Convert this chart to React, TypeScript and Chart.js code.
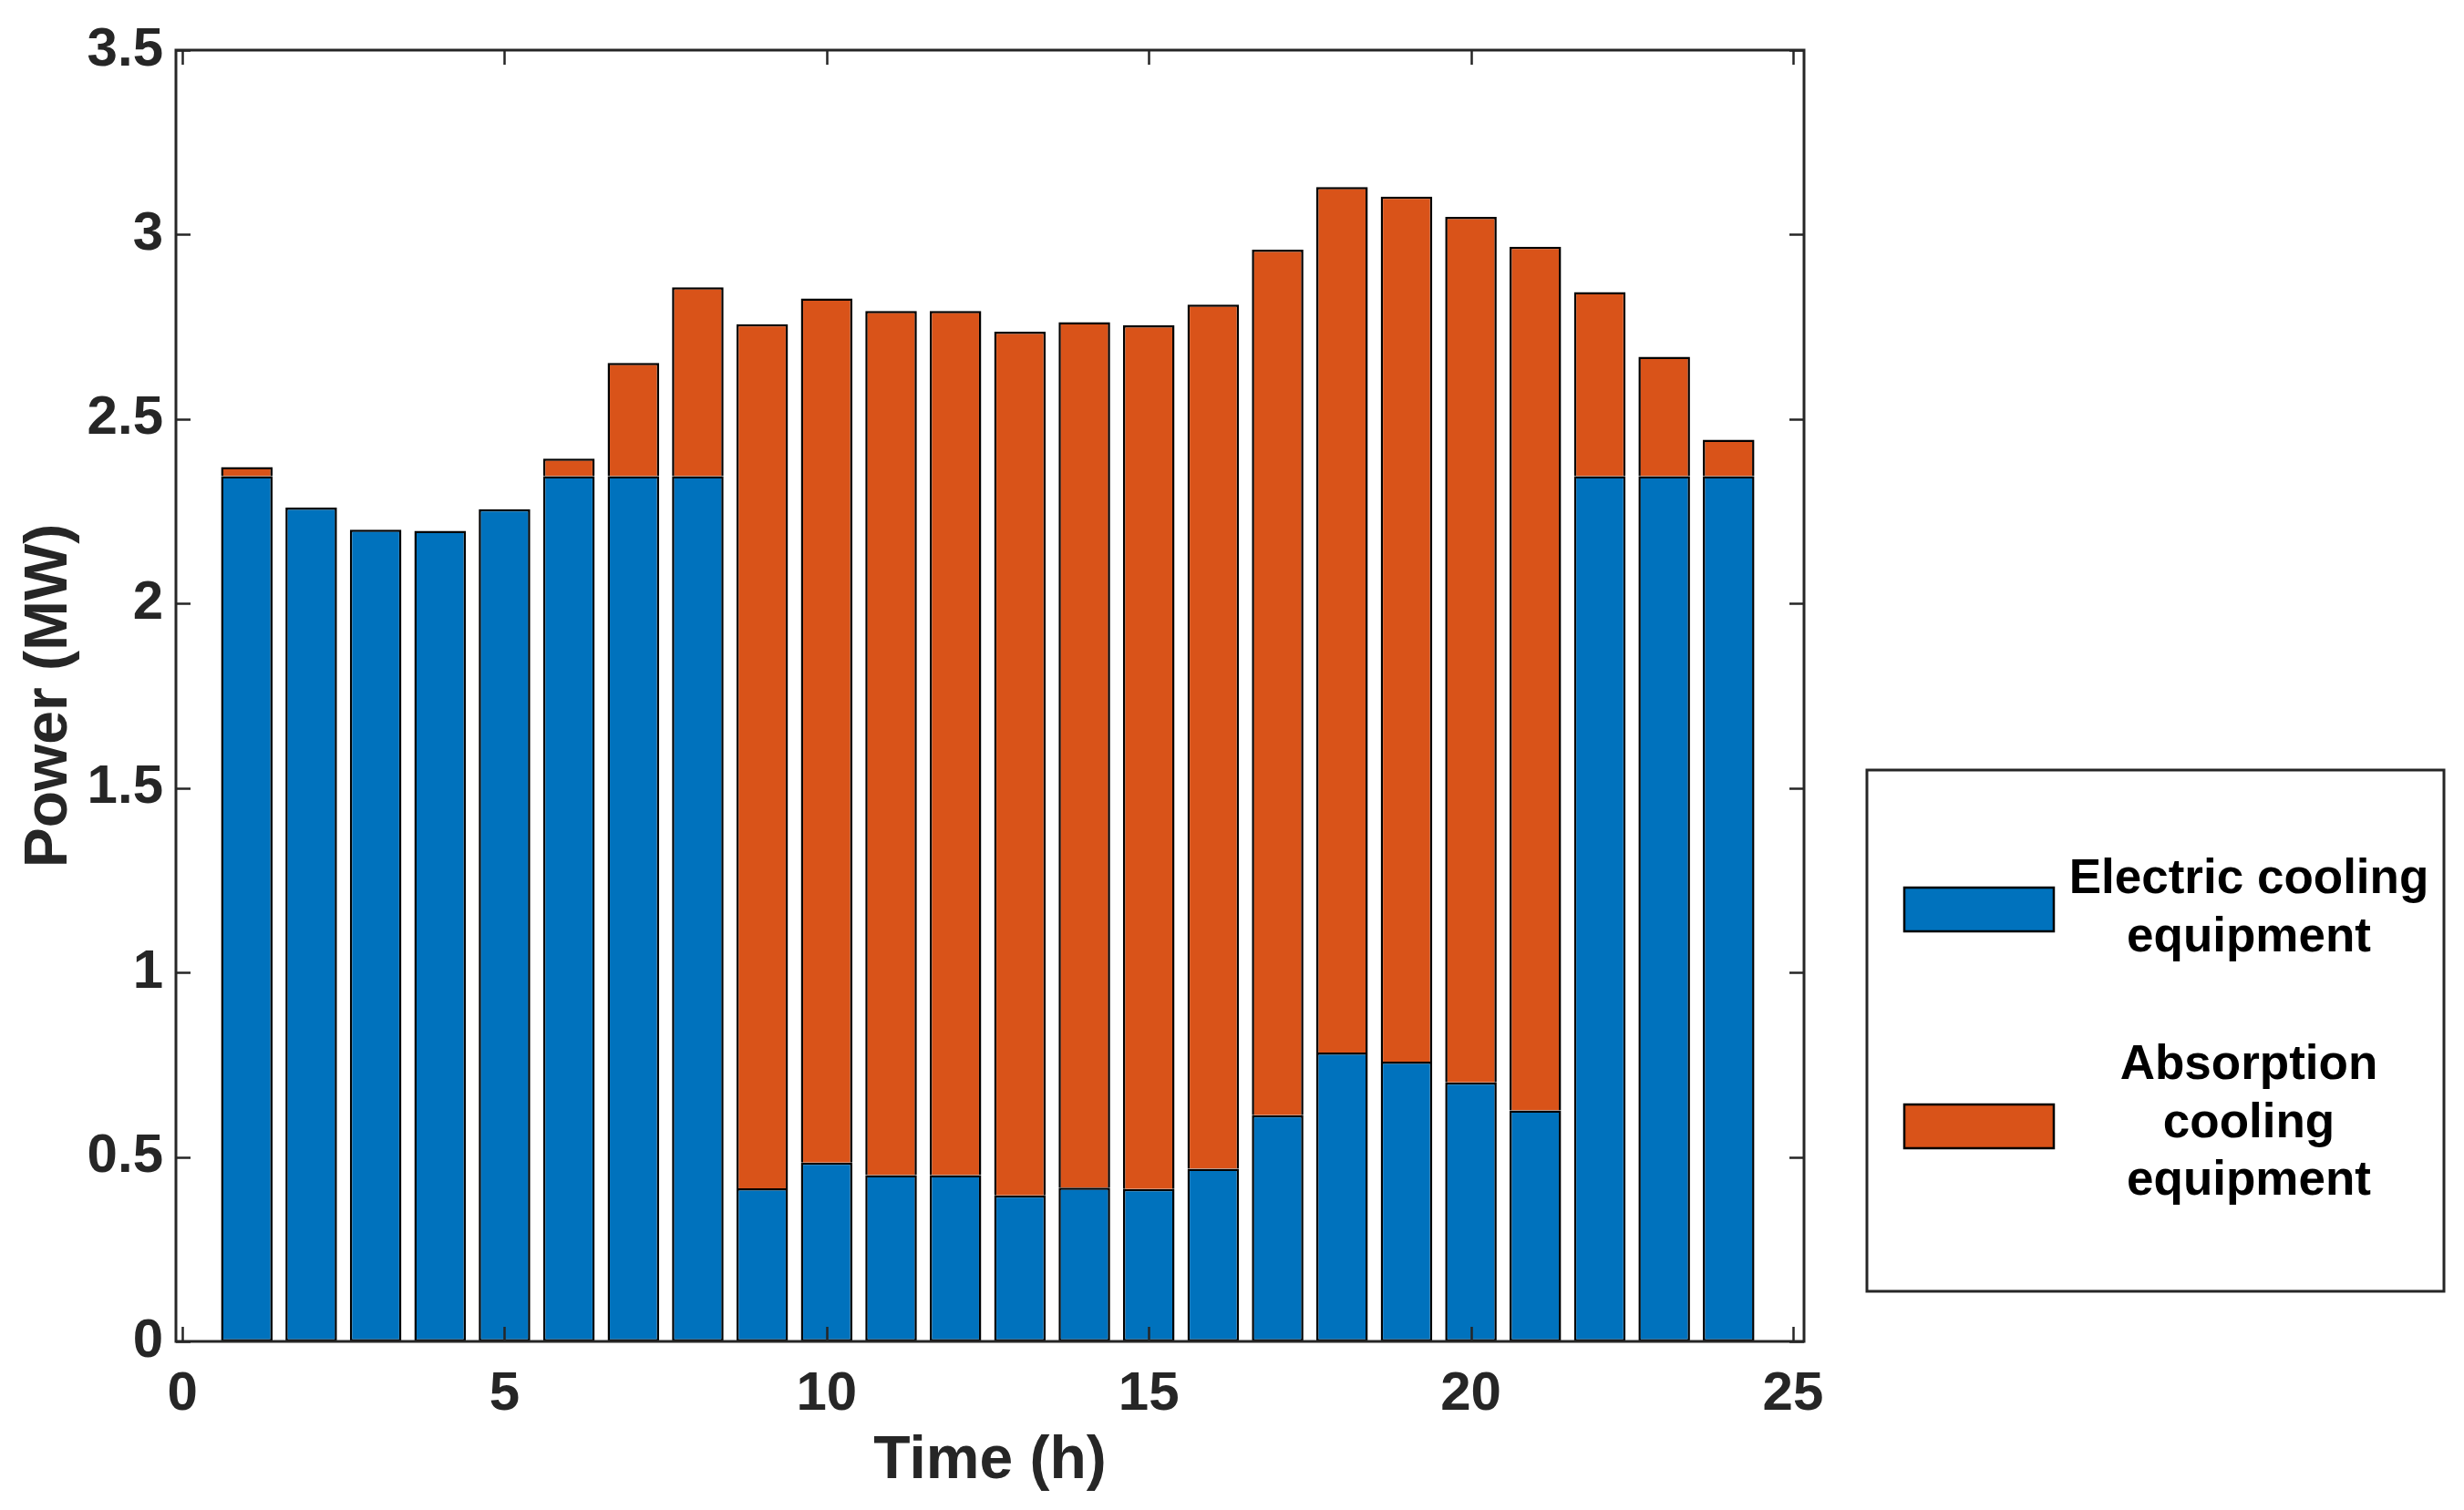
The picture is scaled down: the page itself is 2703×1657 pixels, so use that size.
import React, { useEffect, useRef } from "react";
import { Chart, registerables } from "chart.js";

Chart.register(...registerables);

const hours = [1, 2, 3, 4, 5, 6, 7, 8, 9, 10, 11, 12, 13, 14, 15, 16, 17, 18, 19, 20, 21, 22, 23, 24];
const electric = [2.345, 2.26, 2.2, 2.197, 2.256, 2.345, 2.345, 2.345, 0.415, 0.485, 0.451, 0.451, 0.396, 0.417, 0.413, 0.468, 0.613, 0.783, 0.758, 0.702, 0.626, 2.345, 2.345, 2.345];
const absorption = [0.025, 0, 0, 0, 0, 0.048, 0.307, 0.512, 2.342, 2.342, 2.342, 2.342, 2.341, 2.346, 2.341, 2.342, 2.346, 2.346, 2.345, 2.346, 2.341, 0.499, 0.324, 0.099];
const xTicks = [0, 5, 10, 15, 20, 25];
const yTicks = [0, 0.5, 1, 1.5, 2, 2.5, 3, 3.5];
const seriesLabels = ["Electric cooling equipment", "Absorption cooling equipment"];
const legendLines = [["Electric cooling", "equipment"], ["Absorption", "cooling", "equipment"]];
const seriesColors = ["#0072BD", "#D95319"];

const FONT = "'Liberation Sans', Arial, Helvetica, sans-serif";
const AXIS_COLOR = "#262626";
const W = 2703;
const H = 1657;

const boxPlugin = {
  id: "matlabBox",
  afterDatasetsDraw(chart: any) {
    const { ctx, chartArea, scales } = chart;
    const { left, right, top, bottom } = chartArea;
    const tl = 16;
    ctx.save();
    ctx.strokeStyle = AXIS_COLOR;
    ctx.lineWidth = 2.5;
    ctx.beginPath();
    for (const t of scales.x.ticks) {
      const px = Math.round(scales.x.getPixelForValue(t.value)) + 0.5;
      ctx.moveTo(px, bottom);
      ctx.lineTo(px, bottom - tl);
      ctx.moveTo(px, top);
      ctx.lineTo(px, top + tl);
    }
    for (const t of scales.y.ticks) {
      const py = Math.round(scales.y.getPixelForValue(t.value)) + 0.5;
      ctx.moveTo(left, py);
      ctx.lineTo(left + tl, py);
      ctx.moveTo(right, py);
      ctx.lineTo(right - tl, py);
    }
    ctx.stroke();
    ctx.lineWidth = 3;
    ctx.strokeRect(left, top, right - left, bottom - top);
    ctx.restore();
  },
  afterDraw(chart: any) {
    const { ctx } = chart;
    const bx = 2048, by = 845, bw = 633, bh = 572;
    ctx.save();
    ctx.fillStyle = "#ffffff";
    ctx.fillRect(bx, by, bw, bh);
    ctx.strokeStyle = AXIS_COLOR;
    ctx.lineWidth = 3;
    ctx.strokeRect(bx, by, bw, bh);
    const swatchY = [974, 1212];
    const lineY = [[965, 1029], [1169, 1233, 1296]];
    chart.data.datasets.forEach((ds: any, i: number) => {
      ctx.fillStyle = ds.backgroundColor;
      ctx.fillRect(2089, swatchY[i], 164, 48);
      ctx.strokeStyle = "#000";
      ctx.lineWidth = 2.5;
      ctx.strokeRect(2089, swatchY[i], 164, 48);
      ctx.fillStyle = "#000";
      ctx.font = `bold 53px ${FONT}`;
      ctx.textAlign = "center";
      ctx.textBaseline = "middle";
      legendLines[i].forEach((ln, j) => {
        ctx.fillText(ln, 2467, lineY[i][j]);
      });
    });
    ctx.restore();
  },
};

export default function App() {
  const ref = useRef<HTMLCanvasElement | null>(null);
  useEffect(() => {
    if (!ref.current) return;
    const tickFont = { family: FONT, size: 60, weight: "bold" as const };
    const titleFont = { family: FONT, size: 66, weight: "bold" as const };
    const chart = new Chart(ref.current, {
      type: "bar",
      data: {
        datasets: [
          {
            label: seriesLabels[0],
            data: hours.map((h, i) => ({ x: h, y: electric[i] })),
            backgroundColor: seriesColors[0],
            borderColor: "#000",
            borderWidth: 2.5,
            borderSkipped: false,
            stack: "s",
          },
          {
            label: seriesLabels[1],
            data: hours.map((h, i) => ({ x: h, y: absorption[i] })),
            backgroundColor: seriesColors[1],
            borderColor: "#000",
            borderWidth: { top: 2.5, left: 2.5, right: 2.5, bottom: 0 },
            borderSkipped: false,
            stack: "s",
          },
        ] as any,
      },
      options: {
        animation: false,
        responsive: false,
        devicePixelRatio: 1,
        layout: { padding: { left: 0, right: W - 1979, top: 55, bottom: 0 } },
        plugins: { legend: { display: false }, tooltip: { enabled: false } },
        datasets: { bar: { barPercentage: 0.8, categoryPercentage: 1.0 } },
        scales: {
          x: {
            type: "linear",
            stacked: true,
            min: -0.1,
            max: 25.17,
            offset: false,
            afterBuildTicks: (s: any) => {
              s.ticks = xTicks.map((v) => ({ value: v }));
            },
            afterFit: (s: any) => {
              s.height = H - 1472;
            },
            ticks: {
              font: tickFont,
              color: AXIS_COLOR,
              padding: 22,
              maxRotation: 0,
              callback: (v: any) => String(v),
            },
            grid: { display: false, drawTicks: false },
            border: { display: false },
            title: { display: true, text: "Time (h)", font: titleFont, color: AXIS_COLOR, padding: { top: 0, bottom: 14 } },
          },
          y: {
            type: "linear",
            stacked: true,
            min: 0,
            max: 3.5,
            afterBuildTicks: (s: any) => {
              s.ticks = yTicks.map((v) => ({ value: v }));
            },
            afterFit: (s: any) => {
              s.width = 193;
            },
            ticks: {
              font: tickFont,
              color: AXIS_COLOR,
              padding: 14,
              callback: (v: any) => String(v),
            },
            grid: { display: false, drawTicks: false },
            border: { display: false },
            title: { display: true, text: "Power (MW)", font: titleFont, color: AXIS_COLOR, padding: { top: 15, bottom: 0 } },
          },
        },
      } as any,
      plugins: [boxPlugin],
    });
    return () => chart.destroy();
  }, []);
  return (
    <div style={{ position: "absolute", left: 0, top: 0, width: W, height: H, background: "#fff" }}>
      <canvas ref={ref} width={W} height={H} style={{ width: W, height: H, display: "block" }} />
    </div>
  );
}
